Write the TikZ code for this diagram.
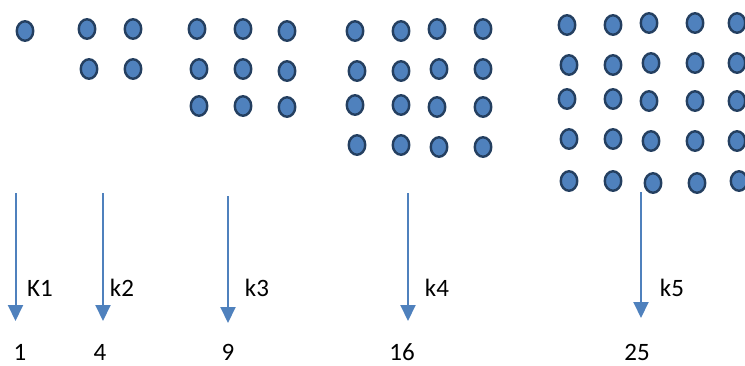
\documentclass[tikz,border=0pt]{standalone}
\usepackage{fontspec}
\setmainfont{Carlito}
\usetikzlibrary{shapes.geometric,arrows.meta}
\definecolor{dotfill}{HTML}{4F81BD}
\definecolor{dotline}{HTML}{243F60}
\definecolor{arrowblue}{HTML}{4F81BD}
\tikzset{
  dot/.style={ellipse,draw=dotline,fill=dotfill,line width=2.4pt,minimum width=16.5pt,minimum height=19.5pt,inner sep=0pt},
  downarrow/.style={draw=arrowblue,line width=2pt,-{Triangle[width=15pt,length=16pt]}},
  lbl/.style={anchor=base,font=\fontsize{25}{29}\selectfont,inner sep=0pt,text=black}
}
\begin{document}
\begin{tikzpicture}[x=1pt,y=-1pt]
\useasboundingbox (0,0) rectangle (745,365);
% group 1
\node[dot] (a1) at (25,31) {};
% group 2
\node[dot] (b11) at (87,29) {};
\node[dot] (b12) at (133,29) {};
\node[dot] (b21) at (89,69) {};
\node[dot] (b22) at (133,69) {};
% group 3
\node[dot] (c11) at (197,29) {};
\node[dot] (c12) at (243,29) {};
\node[dot] (c13) at (287,31) {};
\node[dot] (c21) at (199,69) {};
\node[dot] (c22) at (243,69) {};
\node[dot] (c23) at (287,71) {};
\node[dot] (c31) at (199,106) {};
\node[dot] (c32) at (243,106) {};
\node[dot] (c33) at (287,107) {};
% group 4
\node[dot] (d11) at (355,31) {};
\node[dot] (d12) at (401,31) {};
\node[dot] (d13) at (437,29) {};
\node[dot] (d14) at (483,29) {};
\node[dot] (d21) at (357,71) {};
\node[dot] (d22) at (401,71) {};
\node[dot] (d23) at (439,69) {};
\node[dot] (d24) at (483,69) {};
\node[dot] (d31) at (355,105) {};
\node[dot] (d32) at (401,105) {};
\node[dot] (d33) at (437,107) {};
\node[dot] (d34) at (483,107) {};
\node[dot] (d41) at (357,145) {};
\node[dot] (d42) at (401,145) {};
\node[dot] (d43) at (439,147) {};
\node[dot] (d44) at (483,147) {};
% group 5
\node[dot] (e11) at (567,25) {};
\node[dot] (e12) at (613,25) {};
\node[dot] (e13) at (649,23) {};
\node[dot] (e14) at (695,23) {};
\node[dot] (e15) at (737,23) {};
\node[dot] (e21) at (569,65) {};
\node[dot] (e22) at (613,65) {};
\node[dot] (e23) at (651,63) {};
\node[dot] (e24) at (695,63) {};
\node[dot] (e25) at (737,63) {};
\node[dot] (e31) at (567,99) {};
\node[dot] (e32) at (613,99) {};
\node[dot] (e33) at (649,101) {};
\node[dot] (e34) at (695,101) {};
\node[dot] (e35) at (737,101) {};
\node[dot] (e41) at (569,139) {};
\node[dot] (e42) at (613,139) {};
\node[dot] (e43) at (651,141) {};
\node[dot] (e44) at (695,141) {};
\node[dot] (e45) at (737,141) {};
\node[dot] (e51) at (569,181) {};
\node[dot] (e52) at (613,181) {};
\node[dot] (e53) at (653,183) {};
\node[dot] (e54) at (697,183) {};
\node[dot] (e55) at (739,181) {};
% arrows
\coordinate (s1) at (15.5,193);
\coordinate (t1) at (15.5,321);
\coordinate (s2) at (103,193);
\coordinate (t2) at (103,321);
\coordinate (s3) at (228,196);
\coordinate (t3) at (228,323);
\coordinate (s4) at (408,193);
\coordinate (t4) at (408,321);
\coordinate (s5) at (641,192);
\coordinate (t5) at (641,318);
\draw[downarrow] (s1) -- (t1);
\draw[downarrow] (s2) -- (t2);
\draw[downarrow] (s3) -- (t3);
\draw[downarrow] (s4) -- (t4);
\draw[downarrow] (s5) -- (t5);
% labels
\node[lbl] (k1) at (40,296) {K1};
\node[lbl] (k2) at (122,296) {k2};
\node[lbl] (k3) at (257,296) {k3};
\node[lbl] (k4) at (437,296) {k4};
\node[lbl] (k5) at (672,296) {k5};
% numbers
\node[lbl] (n1) at (20,360) {1};
\node[lbl] (n4) at (100,360) {4};
\node[lbl] (n9) at (228,360) {9};
\node[lbl] (n16) at (402,360) {16};
\node[lbl] (n25) at (637,360) {25};
\end{tikzpicture}
\end{document}
